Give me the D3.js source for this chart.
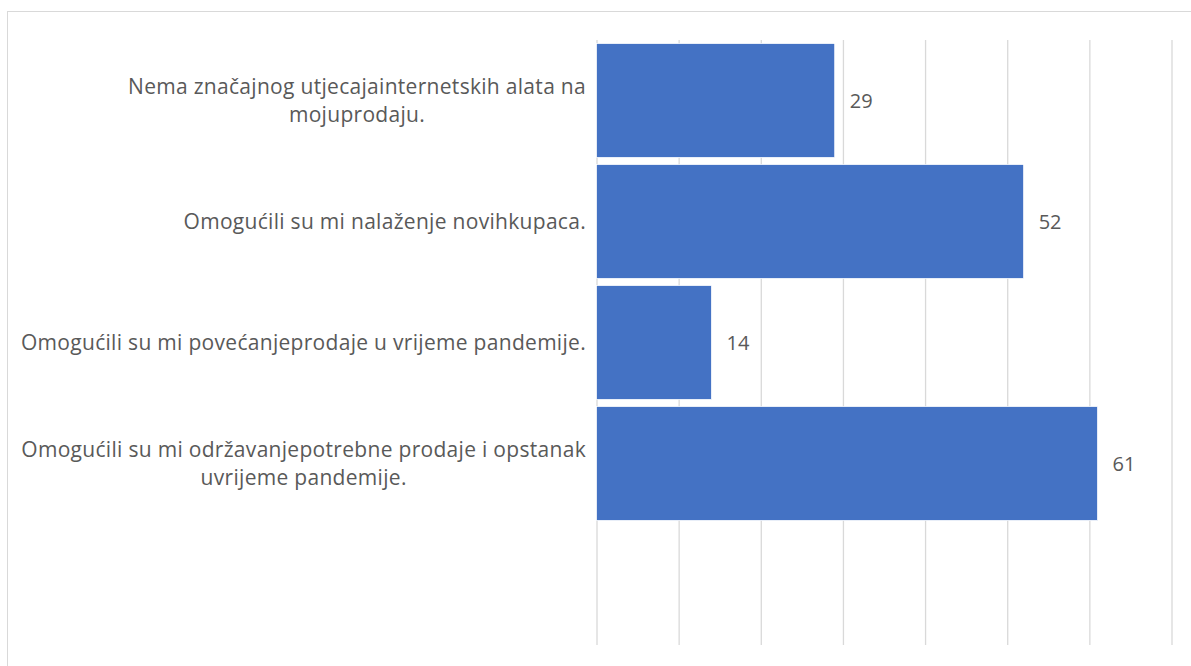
<!DOCTYPE html>
<html>
<head>
<meta charset="utf-8">
<script src="https://cdn.jsdelivr.net/npm/d3@7"></script>
<style>
  html, body { margin: 0; padding: 0; background: #fff; }
  svg { display: block; }
  text { font-family: "Open Sans", sans-serif; fill: #595959; }
</style>
</head>
<body>
<div id="chart"></div>
<script>
// categories top to bottom (last one is the empty slot Excel left in the plot)
const categories = [
  'Nema značajnog utjecajainternetskih alata na mojuprodaju.',
  'Omogućili su mi nalaženje novihkupaca.',
  'Omogućili su mi povećanjeprodaje u vrijeme pandemije.',
  'Omogućili su mi održavanjepotrebne prodaje i opstanak uvrijeme pandemije.',
  ''
];
const values = [29, 52, 14, 61, null];
const xTicks = [0, 10, 20, 30, 40, 50, 60, 70];

const W = 1191, H = 666;
const plot = { left: 596.5, right: 1171.5, top: 40, bottom: 645 };
const labelRight = 586;
const wrapWidth = 580;
const fontSize = 21;

const svg = d3.select('#chart').append('svg')
  .attr('width', W)
  .attr('height', H);

// chart area border
svg.append('rect')
  .attr('x', 7.5).attr('y', 11.5)
  .attr('width', W + 20).attr('height', H + 20)
  .attr('fill', '#fff')
  .attr('stroke', '#d9d9d9')
  .attr('stroke-width', 1);

const x = d3.scaleLinear()
  .domain([0, 70])
  .range([plot.left, plot.right]);

const y = d3.scaleBand()
  .domain(categories.map((d, i) => i))
  .range([plot.top, plot.bottom])
  .paddingInner(0.058)
  .paddingOuter(0.029);

// vertical gridlines
const grid = svg.append('g')
  .attr('transform', `translate(0, ${plot.bottom})`)
  .call(d3.axisBottom(x).tickValues(xTicks).tickSize(-(plot.bottom - plot.top)).tickFormat(''));
grid.select('.domain').remove();
grid.selectAll('.tick line')
  .attr('stroke', '#d9d9d9')
  .attr('stroke-width', 1.3);

// bars
svg.selectAll('rect.bar')
  .data(values.map((v, i) => ({ v, i })).filter(d => d.v != null))
  .enter()
  .append('rect')
  .attr('class', 'bar')
  .attr('x', x(0))
  .attr('y', d => y(d.i))
  .attr('width', d => x(d.v) - x(0))
  .attr('height', y.bandwidth())
  .attr('fill', '#4472c4')
  .attr('stroke', '#fff')
  .attr('stroke-width', 0.75);

// value labels
svg.selectAll('text.val')
  .data(values.map((v, i) => ({ v, i })).filter(d => d.v != null))
  .enter()
  .append('text')
  .attr('class', 'val')
  .attr('x', d => x(d.v) + 15)
  .attr('y', d => y(d.i) + y.bandwidth() / 2)
  .attr('dy', '0.35em')
  .style('font-size', '20px')
  .text(d => d.v);

// category labels, wrapped, lines centred inside a right-aligned block
const measure = svg.append('text')
  .style('font-size', fontSize + 'px')
  .style('letter-spacing', '0.3px');
function textWidth(s) {
  measure.text(s);
  return measure.node().getComputedTextLength();
}
function wrap(label) {
  const words = label.split(' ');
  const lines = [];
  let line = '';
  words.forEach(w => {
    const test = line ? line + ' ' + w : w;
    if (line && textWidth(test) > wrapWidth) {
      lines.push(line);
      line = w;
    } else {
      line = test;
    }
  });
  if (line) lines.push(line);
  return lines;
}

const lineHeight = 28;
categories.forEach((c, i) => {
  if (!c) return;
  const lines = wrap(c);
  const blockW = d3.max(lines, textWidth);
  const cx = labelRight - blockW / 2;
  const cy = y(i) + y.bandwidth() / 2;
  const t = svg.append('text')
    .attr('text-anchor', 'middle')
    .style('font-size', fontSize + 'px')
    .style('letter-spacing', '0.3px');
  lines.forEach((l, k) => {
    t.append('tspan')
      .attr('x', cx)
      .attr('y', cy + (k - (lines.length - 1) / 2) * lineHeight)
      .attr('dy', '0.35em')
      .text(l);
  });
});
measure.remove();
</script>
</body>
</html>
